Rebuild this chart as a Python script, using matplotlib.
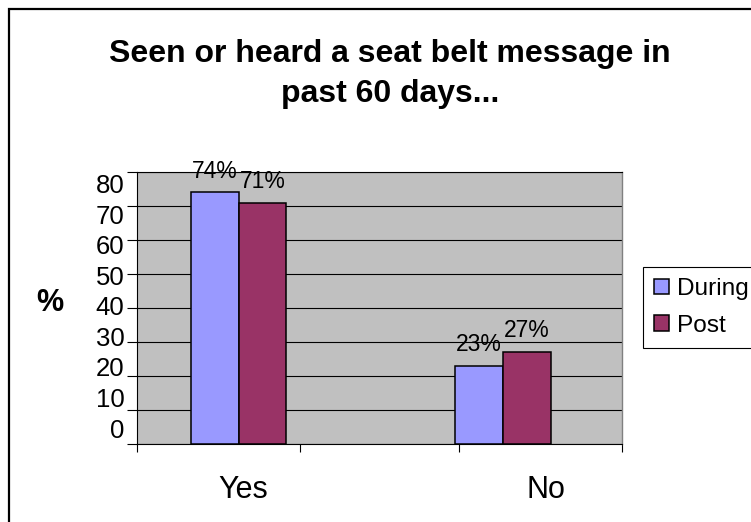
import numpy as np
import matplotlib
matplotlib.use("Agg")
import matplotlib.pyplot as plt
from matplotlib.patches import Rectangle

plt.rcParams['font.family'] = ['Liberation Sans', 'DejaVu Sans']

# data
categories = ['Yes', 'No']
during = [74, 23]
post = [71, 27]
during_lbl = ['74%', '23%']
post_lbl = ['71%', '27%']
yticks = [0, 10, 20, 30, 40, 50, 60, 70, 80]

fig = plt.figure(figsize=(7.51, 5.22), dpi=100)
W, H = 751.0, 522.0

# outer chart frame (runs off the right / bottom edge)
fig.patches.append(Rectangle((9 / W, -0.1), 1.2, 1 - 9 / H + 0.1, transform=fig.transFigure,
                             fill=False, edgecolor='black', linewidth=1.6))

ax = fig.add_axes([137 / W, 1 - 444 / H, (622 - 137) / W, (444 - 172) / H])
ax.set_facecolor('#C0C0C0')

x = np.arange(len(categories))
w = 0.18
ax.bar(x - w / 2, during, w, color='#9999FF', edgecolor='black', linewidth=1.1, label='During', zorder=3)
ax.bar(x + w / 2, post, w, color='#993366', edgecolor='black', linewidth=1.1, label='Post', zorder=3)

for i in range(len(categories)):
    ax.annotate(during_lbl[i], (x[i] - w / 2, during[i]), xytext=(0, 7), textcoords='offset points',
                ha='center', va='bottom', fontsize=16.5)
    ax.annotate(post_lbl[i], (x[i] + w / 2, post[i]), xytext=(0, 7), textcoords='offset points',
                ha='center', va='bottom', fontsize=16.5)

ax.set_xlim(-0.384, 1.45)
ax.set_ylim(0, 80)

# odd excel-style tick marks along the category axis
ax.set_xticks([-0.384, 0.233, 0.834, 1.45])
ax.set_xticklabels([])
ax.set_xticks([0.017, 1.163], minor=True)
ax.set_xticklabels(categories, minor=True, fontsize=22)
ax.tick_params(axis='x', which='major', direction='out', length=6, width=0.8)
ax.tick_params(axis='x', which='minor', length=0, pad=22)

ax.set_yticks(yticks)
ax.set_yticklabels([])
ax.tick_params(axis='y', direction='out', length=7, width=0.8)
ax.yaxis.grid(True, color='black', linewidth=0.8)
ax.set_axisbelow(True)

for s in ['left', 'bottom', 'top']:
    ax.spines[s].set_color('black')
    ax.spines[s].set_linewidth(0.8)
ax.spines['right'].set_color('#808080')
ax.spines['right'].set_linewidth(1.0)

# value labels (excel squeezes them a bit relative to the gridlines)
ax2 = ax.twinx()
ax2.set_ylim(-5.24, 83.9)
ax2.set_yticks(yticks)
ax2.set_yticklabels([str(v) for v in yticks], fontsize=18.5)
ax2.yaxis.set_ticks_position('left')
ax2.yaxis.set_label_position('left')
ax2.tick_params(axis='y', length=0, pad=9)
for s in ax2.spines.values():
    s.set_visible(False)

fig.text(50 / W, 1 - 303 / H, '%', fontsize=22, fontweight='bold', ha='center', va='center')

fig.text(390 / W, 1 - 102 / H, 'Seen or heard a seat belt message in\npast 60 days...',
         fontsize=23, fontweight='bold', ha='center', va='baseline', linespacing=1.45,
         multialignment='center')

h, l = ax.get_legend_handles_labels()
fig.legend(h, l, loc='upper left', bbox_to_anchor=(643 / W, 1 - 267 / H), fontsize=17.6,
           frameon=True, fancybox=False, edgecolor='black', framealpha=1, borderaxespad=0,
           handlelength=0.6, handleheight=0.6, handletextpad=0.35, labelspacing=0.6,
           borderpad=0.45)
fig.legends[0].get_frame().set_linewidth(0.8)

fig.savefig('out.png', dpi=100)
